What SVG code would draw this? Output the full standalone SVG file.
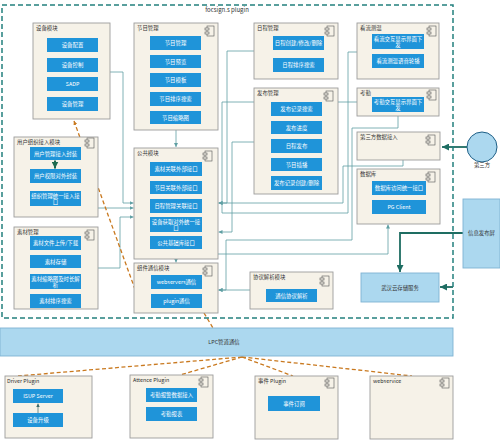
<svg xmlns="http://www.w3.org/2000/svg" xmlns:xlink="http://www.w3.org/1999/xlink" width="500" height="441" viewBox="0 0 500 441">
<style>
.mod{fill:#f6f2e8;stroke:#9c9c9c;stroke-width:0.9}
.item{fill:#1f94d9}
.it{fill:#fff;font-size:5.4px;font-family:"Noto Sans CJK SC","Liberation Sans",sans-serif;text-anchor:middle}
.lbl{fill:#333;font-size:5.4px;font-family:"Noto Sans CJK SC","Liberation Sans",sans-serif}
.conn{fill:none;stroke:#5f9fa3;stroke-width:0.8}
.dash{fill:none;stroke:#c9791f;stroke-width:1.3;stroke-dasharray:4 2.5}
.thick{fill:none;stroke:#1e6d62;stroke-width:1.8}
.ext{fill:#acd8ef;stroke:#7fb3d3;stroke-width:0.9}
.t{fill:#333;font-size:5.4px;font-family:"Noto Sans CJK SC","Liberation Sans",sans-serif;text-anchor:middle}
</style>
<defs>
<marker id="a" viewBox="0 0 6 6" refX="6" refY="3" markerWidth="4" markerHeight="4" markerUnits="userSpaceOnUse" orient="auto"><path d="M0,0 L6,3 L0,6 z" fill="#5f9fa3"/></marker>
<marker id="ab" viewBox="0 0 6 6" refX="6" refY="3" markerWidth="7" markerHeight="7" markerUnits="userSpaceOnUse" orient="auto"><path d="M0,0 L6,3 L0,6 z" fill="#1e6d62"/></marker>
<marker id="ag" viewBox="0 0 6 6" refX="6" refY="3" markerWidth="7" markerHeight="7" markerUnits="userSpaceOnUse" orient="auto"><path d="M0,0 L6,3 L0,6 z" fill="#1d6b4f"/></marker>
<marker id="ad" viewBox="0 0 6 6" refX="6" refY="3" markerWidth="3.5" markerHeight="3.5" markerUnits="userSpaceOnUse" orient="auto"><path d="M0,0 L6,3 L0,6 z" fill="#3d6b6b"/></marker>
<marker id="ao" viewBox="0 0 6 6" refX="0" refY="3" markerWidth="4" markerHeight="4" markerUnits="userSpaceOnUse" orient="auto"><path d="M6,0 L0,3 L6,6 z" fill="#c9791f"/></marker>
<g id="ico"><rect x="-3" y="-5" width="7" height="10" fill="none" stroke="#555" stroke-width="0.6"/><rect x="-5" y="-3" width="4" height="2" fill="#f6f2e8" stroke="#555" stroke-width="0.6"/><rect x="-5" y="1" width="4" height="2" fill="#f6f2e8" stroke="#555" stroke-width="0.6"/></g>
</defs>
<rect width="500" height="441" fill="#fff"/>

<g id="connectors">
<path class="conn" d="M176,130 V147" marker-end="url(#a)"/>
<path class="conn" d="M176,259 V262.5" marker-end="url(#a)"/>
<path class="conn" d="M110,72 H123 V203 H133.5" marker-end="url(#a)"/>
<path class="conn" d="M98,208 H133.5" marker-end="url(#a)"/>
<path class="conn" d="M98,268 H120 V217 H133.5" marker-end="url(#a)"/>
<path class="conn" d="M254,51 H227 V203 H218.5" marker-end="url(#a)"/>
<path class="conn" d="M357,102 H222 V203"/>
<path class="conn" d="M357,52 H348 V213 H222 V203"/>
<path class="conn" d="M403,160 V166 H343 V203 H218.5" marker-end="url(#a)"/>
<path class="conn" d="M254,142 H232 V232 H218.5" marker-end="url(#a)"/>
<path class="conn" d="M398,116 V128 H352 V240 H226 V290 H218.5" marker-end="url(#a)"/>
<path class="conn" d="M250,290 H218.5" marker-end="url(#a)"/>
<path class="conn" d="M218,254 H388 V224.5" marker-end="url(#a)"/>
<path class="dash" d="M74,121 L136,292" marker-start="url(#ao)"/>
<path class="dash" d="M204,313 L213,328"/>
<path class="dash" d="M242,357 L18,376"/>
<path class="dash" d="M242,357 L180,375"/>
<path class="dash" d="M242,357 L293,376"/>
<path class="dash" d="M242,357 L412,376"/>
<path class="thick" d="M467,147 H442" marker-end="url(#ab)"/>
<path class="thick" d="M463,233 H400 V272" marker-end="url(#ab)"/>
<path class="thick" d="M453,287 H440" marker-end="url(#ab)"/>
</g>

<rect id="container" x="2" y="5" width="451" height="313" fill="none" stroke="#23807e" stroke-width="1.5" stroke-dasharray="5 3"/>
<text x="227" y="12" class="t" style="font-size:6px">focsign.s plugin</text>

<g id="m-device">
<rect class="mod" x="33" y="23" width="77" height="96"/>
<text class="lbl" x="36" y="30">设备模块</text>
<rect class="item" x="47" y="38" width="51" height="14"/><text class="it" x="72.5" y="47">设备配置</text>
<rect class="item" x="47" y="58" width="51" height="14"/><text class="it" x="72.5" y="67">设备控制</text>
<rect class="item" x="47" y="77" width="51" height="14"/><text class="it" x="72.5" y="86">SADP</text>
<rect class="item" x="47" y="97" width="51" height="14"/><text class="it" x="72.5" y="106">设备管理</text>
</g>

<g id="m-program">
<rect class="mod" x="134" y="23" width="84" height="107"/>
<text class="lbl" x="137" y="30">节目管理</text>
<use xlink:href="#ico" href="#ico" x="210" y="31"/>
<rect class="item" x="150" y="36" width="51" height="14"/><text class="it" x="175.5" y="45">节目管理</text>
<rect class="item" x="150" y="55" width="51" height="13"/><text class="it" x="175.5" y="63.5">节目预览</text>
<rect class="item" x="150" y="73" width="51" height="14"/><text class="it" x="175.5" y="82">节目模板</text>
<rect class="item" x="150" y="92" width="51" height="14"/><text class="it" x="175.5" y="101">节目排序搜索</text>
<rect class="item" x="150" y="111" width="51" height="13"/><text class="it" x="175.5" y="119.5">节目缩略图</text>
</g>

<g id="m-schedule">
<rect class="mod" x="254" y="23" width="84" height="56"/>
<text class="lbl" x="257" y="30">日程管理</text>
<use xlink:href="#ico" href="#ico" x="330" y="31"/>
<rect class="item" x="273" y="36" width="51" height="14"/><text class="it" x="298.5" y="45">日程创建/修改/删除</text>
<rect class="item" x="273" y="58" width="51" height="14"/><text class="it" x="298.5" y="67">日程排序搜索</text>
</g>

<g id="m-publish">
<rect class="mod" x="254" y="88" width="84" height="106"/>
<text class="lbl" x="257" y="95">发布管理</text>
<use xlink:href="#ico" href="#ico" x="329" y="96"/>
<rect class="item" x="271" y="102" width="51" height="14"/><text class="it" x="296.5" y="111">发布记录搜索</text>
<rect class="item" x="271" y="121" width="51" height="13"/><text class="it" x="296.5" y="129.5">发布进度</text>
<rect class="item" x="271" y="139" width="51" height="14"/><text class="it" x="296.5" y="148">日程发布</text>
<rect class="item" x="271" y="158" width="51" height="13"/><text class="it" x="296.5" y="166.5">节目插播</text>
<rect class="item" x="271" y="176" width="51" height="14"/><text class="it" x="296.5" y="185">发布记录创建/删除</text>
</g>

<g id="m-stream">
<rect class="mod" x="357" y="23" width="82" height="56"/>
<text class="lbl" x="360" y="30">看流测温</text>
<use xlink:href="#ico" href="#ico" x="432" y="31"/>
<rect class="item" x="372" y="34" width="52" height="15"/><text class="it" x="398" y="40.5">看流交互显示界面下</text><text class="it" x="398" y="47">发</text>
<rect class="item" x="372" y="54" width="52" height="14"/><text class="it" x="398" y="63">看流测温语音轮播</text>
</g>

<g id="m-attend">
<rect class="mod" x="357" y="88" width="82" height="28"/>
<text class="lbl" x="360" y="95">考勤</text>
<use xlink:href="#ico" href="#ico" x="432" y="95"/>
<rect class="item" x="372" y="97" width="52" height="15"/><text class="it" x="398" y="103.5">考勤交互显示界面下</text><text class="it" x="398" y="110">发</text>
</g>

<g id="m-third">
<rect class="mod" x="357" y="132" width="83" height="28"/>
<text class="lbl" x="360" y="139">第三方数据接入</text>
<use xlink:href="#ico" href="#ico" x="431" y="140"/>
</g>

<g id="m-db">
<rect class="mod" x="357" y="169" width="83" height="55"/>
<text class="lbl" x="360" y="176">数据库</text>
<use xlink:href="#ico" href="#ico" x="431" y="177"/>
<rect class="item" x="372" y="181" width="54" height="14"/><text class="it" x="399" y="190">数据库访问统一接口</text>
<rect class="item" x="372" y="200" width="54" height="14"/><text class="it" x="399" y="209">PG Client</text>
</g>

<g id="m-user">
<rect class="mod" x="14" y="137" width="84" height="80"/>
<text class="lbl" x="17" y="144">用户组织接入模块</text>
<use xlink:href="#ico" href="#ico" x="90" y="143"/>
<rect class="item" x="30" y="147" width="51" height="13"/><text class="it" x="55.5" y="155.5">用户管理接入封装</text>
<rect class="item" x="30" y="169" width="51" height="14"/><text class="it" x="55.5" y="178">用户权限对外封装</text>
<rect class="item" x="30" y="191" width="51" height="15"/><text class="it" x="55.5" y="197.5">组织管理统一接入接</text><text class="it" x="55.5" y="204">口</text>
<path d="M55,160.5 V168.5" fill="none" stroke="#1d6b4f" stroke-width="2" marker-end="url(#ag)"/>
</g>

<g id="m-material">
<rect class="mod" x="14" y="227" width="84" height="82"/>
<text class="lbl" x="17" y="234">素材管理</text>
<use xlink:href="#ico" href="#ico" x="90" y="235"/>
<rect class="item" x="30" y="236" width="51" height="14"/><text class="it" x="55.5" y="245">素材文件上传/下载</text>
<rect class="item" x="30" y="255" width="51" height="13"/><text class="it" x="55.5" y="263.5">素材存储</text>
<rect class="item" x="30" y="274" width="51" height="15"/><text class="it" x="55.5" y="280.5">素材缩略图及时长解</text><text class="it" x="55.5" y="287">析</text>
<rect class="item" x="30" y="294" width="51" height="14"/><text class="it" x="55.5" y="303">素材排序搜索</text>
</g>

<g id="m-common">
<rect class="mod" x="134" y="148" width="84" height="111"/>
<text class="lbl" x="137" y="155">公共模块</text>
<use xlink:href="#ico" href="#ico" x="208" y="156"/>
<rect class="item" x="150" y="162" width="52" height="14"/><text class="it" x="176" y="171">素材关联外部接口</text>
<rect class="item" x="150" y="181" width="52" height="13"/><text class="it" x="176" y="189.5">节目关联外部接口</text>
<rect class="item" x="150" y="199" width="52" height="14"/><text class="it" x="176" y="208">日程管理关联接口</text>
<rect class="item" x="150" y="217" width="52" height="15"/><text class="it" x="176" y="223.5">设备获取对外统一接</text><text class="it" x="176" y="230">口</text>
<rect class="item" x="150" y="236" width="52" height="13"/><text class="it" x="176" y="244.5">公共基础库接口</text>
</g>

<g id="m-comm">
<rect class="mod" x="134" y="263" width="84" height="50"/>
<text class="lbl" x="137" y="270">组件通信模块</text>
<use xlink:href="#ico" href="#ico" x="208" y="271"/>
<rect class="item" x="151" y="275" width="51" height="14"/><text class="it" x="176.5" y="284">webservers通信</text>
<rect class="item" x="151" y="294" width="51" height="14"/><text class="it" x="176.5" y="303">plugin通信</text>
</g>

<g id="m-proto">
<rect class="mod" x="250" y="272" width="83" height="37"/>
<text class="lbl" x="253" y="279">协议解析模块</text>
<use xlink:href="#ico" href="#ico" x="325" y="281"/>
<rect class="item" x="266" y="289" width="51" height="13"/><text class="it" x="291.5" y="297.5">通信协议解析</text>
</g>

<g id="n-thirdparty">
<circle cx="482" cy="147" r="15" fill="#acd8ef" stroke="#1f5f86" stroke-width="1"/>
<text class="t" x="482" y="167">第三方</text>
</g>

<g id="n-screen">
<rect class="ext" x="463" y="199" width="37" height="69"/>
<text class="t" x="481.5" y="235">信息发布屏</text>
</g>

<g id="n-storage">
<rect class="ext" x="361" y="273" width="78" height="29"/>
<text class="t" x="400" y="289.5">武汉云存储服务</text>
</g>

<g id="n-lpc">
<rect class="ext" x="0" y="328" width="453" height="28"/>
<text class="t" x="224" y="344">LPC管道通信</text>
</g>

<g id="p-driver">
<rect class="mod" x="5" y="376" width="87" height="62"/>
<text class="lbl" x="7" y="383">Driver Plugin</text>
<rect class="item" x="13" y="389" width="50" height="14"/><text class="it" x="38" y="398">ISUP Server</text>
<rect class="item" x="13" y="413" width="50" height="14"/><text class="it" x="38" y="422">设备升级</text>
<path d="M38,413 V403.5" fill="none" stroke="#3d6b6b" stroke-width="0.7" marker-end="url(#ad)"/>
</g>

<g id="p-attence">
<rect class="mod" x="130" y="375" width="83" height="63"/>
<text class="lbl" x="133" y="382">Attence Plugin</text>
<use xlink:href="#ico" href="#ico" x="204" y="382"/>
<rect class="item" x="146" y="388" width="51" height="14"/><text class="it" x="171.5" y="397">考勤报警数据接入</text>
<rect class="item" x="146" y="407" width="51" height="14"/><text class="it" x="171.5" y="416">考勤报表</text>
</g>

<g id="p-event">
<rect class="mod" x="255" y="376" width="83" height="63"/>
<text class="lbl" x="258" y="383">事件 Plugin</text>
<use xlink:href="#ico" href="#ico" x="330" y="383"/>
<rect class="item" x="268" y="396" width="52" height="15"/><text class="it" x="294" y="405.5">事件订阅</text>
</g>

<g id="p-webservice">
<rect class="mod" x="370" y="376" width="83" height="63"/>
<text class="lbl" x="373" y="383">webservice</text>
<use xlink:href="#ico" href="#ico" x="445" y="383"/>
</g>
</svg>
